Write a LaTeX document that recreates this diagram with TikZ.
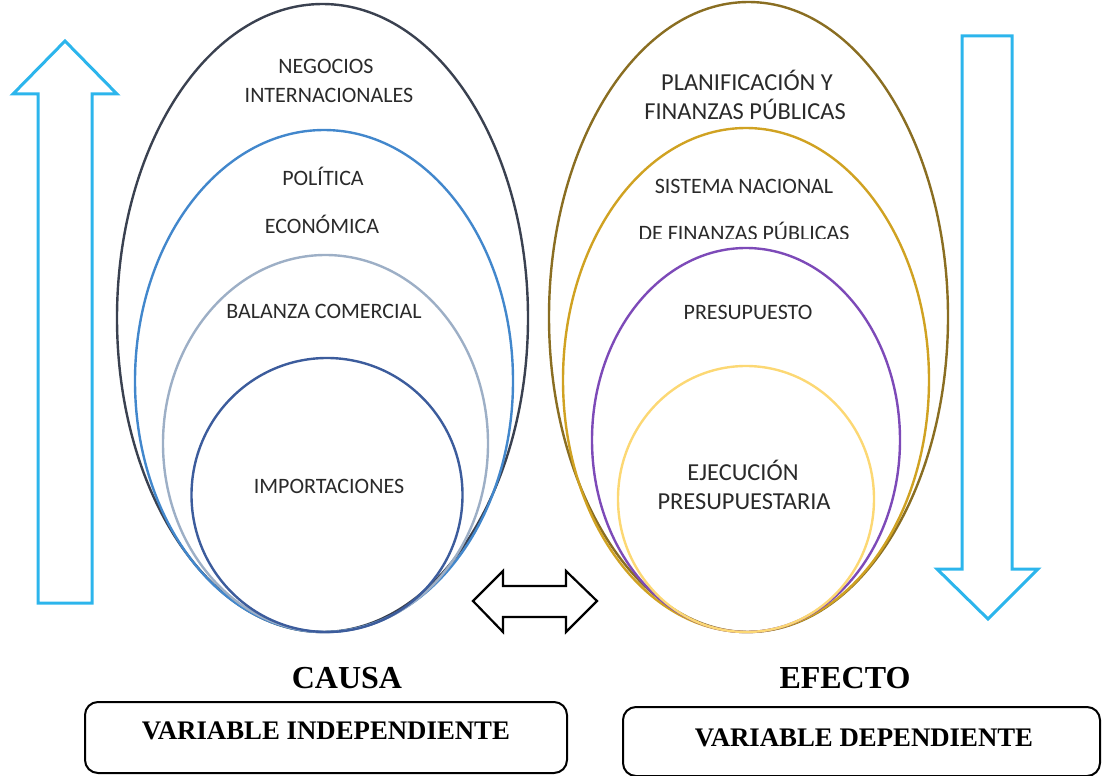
\documentclass[tikz,border=0pt]{standalone}
\usepackage{fontspec}
\setmainfont{Liberation Serif}
\newfontfamily\calib{Carlito}
\definecolor{arrowblue}{HTML}{2CB5EC}
\definecolor{cOuterL}{HTML}{3A4150}
\definecolor{cBlueL}{HTML}{4287CC}
\definecolor{cGrayL}{HTML}{9DAFC6}
\definecolor{cDarkL}{HTML}{3C5C9C}
\definecolor{cOliveR}{HTML}{8A6E22}
\definecolor{cGoldR}{HTML}{D0A222}
\definecolor{cPurpleR}{HTML}{7D4AB8}
\definecolor{cYellowR}{HTML}{FCD874}
\definecolor{txt}{HTML}{2A2A2A}
\tikzset{
  ring/.style={line width=2.4pt},
  lbl/.style={font=\calib\fontsize{22}{24}\selectfont, text=txt, inner sep=0pt, anchor=center},
  lblbig/.style={font=\calib\fontsize{24.4}{27}\selectfont, text=txt, inner sep=0pt, anchor=center},
  bigarrow/.style={draw=arrowblue, line width=3pt, line join=miter},
  dblarrow/.style={draw=black, line width=2.2pt, line join=miter},
  title/.style={font=\bfseries\fontsize{32}{36}\selectfont, inner sep=0pt},
  varbox/.style={draw=black, line width=2pt, rounded corners=13pt},
  vartext/.style={font=\bfseries\fontsize{26.8}{30}\selectfont, inner sep=0pt}
}
\begin{document}
\begin{tikzpicture}[x=1pt,y=-1pt]
\useasboundingbox (0,0) rectangle (1104,776);
% left ellipses
\draw[ring, cOuterL] (322.5,318) ellipse [x radius=205.5, y radius=314];
\draw[ring, cBlueL] (324,381) ellipse [x radius=189, y radius=251];
\draw[ring, cGrayL] (325.5,443.5) ellipse [x radius=162.5, y radius=188.5];
\draw[ring, cDarkL] (327,495) ellipse [x radius=135.5, y radius=137];
% right ellipses
\draw[ring, cOliveR] (748.5,317) ellipse [x radius=199.5, y radius=315];
\draw[ring, cGoldR] (746,380) ellipse [x radius=183, y radius=252];
\draw[ring, cPurpleR] (746,440) ellipse [x radius=154, y radius=192];
\draw[ring, cYellowR] (746,499) ellipse [x radius=128, y radius=133];
% left labels
\node[lbl] (neg1) at (326,66) {NEGOCIOS};
\node[lbl] (neg2) at (329,95) {INTERNACIONALES};
\node[lbl] (pol) at (323,176) {POLÍTICA};
\node[lbl] (eco) at (322,224) {ECONÓMICA};
\node[lbl] (bal) at (324,311) {BALANZA COMERCIAL};
\node[lbl] (imp) at (329,486) {IMPORTACIONES};
% right labels
\node[lblbig] (pla1) at (747,80) {PLANIFICACIÓN Y};
\node[lblbig] (pla2) at (745,109) {FINANZAS PÚBLICAS};
\node[lbl] (sis1) at (744,186) {SISTEMA NACIONAL};
\begin{scope}
\clip (600,200) rectangle (900,238);
\node[lbl] (sis2) at (744,231) {DE FINANZAS PÚBLICAS};
\end{scope}
\node[lbl] (pre) at (748,312) {PRESUPUESTO};
\node[lblbig] (eje1) at (743,470) {EJECUCIÓN};
\node[lblbig] (eje2) at (744,502) {PRESUPUESTARIA};
% up arrow
\draw[bigarrow] (38,603) -- (38,94) -- (13,94) -- (65,41) -- (117,94) -- (92,94) -- (92,603) -- cycle;
% down arrow
\draw[bigarrow] (962,36) -- (1012,36) -- (1012,569) -- (1038,569) -- (988,619) -- (937,569) -- (962,569) -- cycle;
% double arrow
\draw[dblarrow] (473,601) -- (503,571) -- (503,586) -- (566,586) -- (566,571) -- (597,601) -- (566,632) -- (566,617) -- (503,617) -- (503,632) -- cycle;
% titles
\node[title] (causa) at (347,678) {CAUSA};
\node[title] (efecto) at (845,678) {EFECTO};
\draw[varbox] (85,702) rectangle (567,773);
\node[vartext] (vi) at (326,731) {VARIABLE INDEPENDIENTE};
\draw[varbox] (623,707) rectangle (1100,776);
\node[vartext] (vd) at (864,738) {VARIABLE DEPENDIENTE};
\end{tikzpicture}
\end{document}
